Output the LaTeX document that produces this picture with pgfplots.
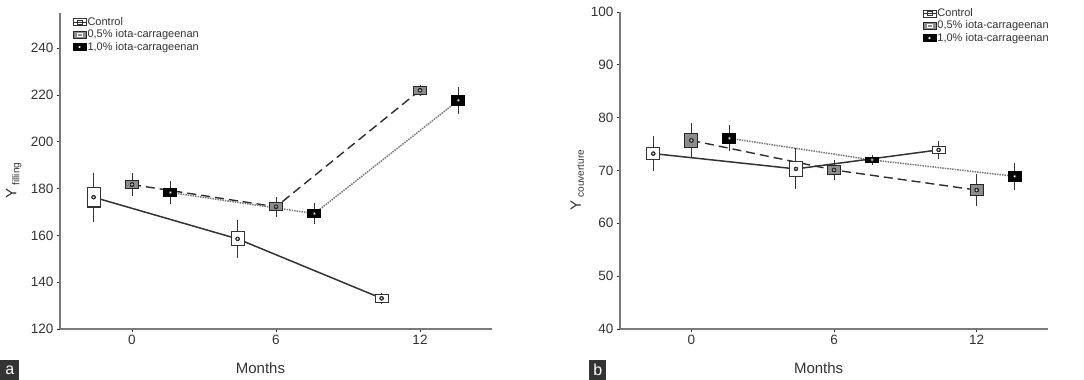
\documentclass[border=0pt]{standalone}
\usepackage{pgfplots}
\pgfplotsset{compat=1.18}
\usepackage{fontspec}
\setmainfont{Liberation Sans}
\definecolor{axgray}{HTML}{7A7A7A}
\definecolor{txt}{HTML}{333333}
\definecolor{ctrlc}{HTML}{333333}
\definecolor{halfc}{HTML}{2E2E2E}
\definecolor{onec}{HTML}{7A7A7A}
\definecolor{boxgray}{HTML}{8C8C8C}

% #1 style, #2 x position, #3 mean, #4 whisker half-length, #5 box half-height
\newcommand{\mybox}[5]{%
  \pgfmathsetmacro\xa{#2-0.27}\pgfmathsetmacro\xb{#2+0.27}%
  \pgfmathsetmacro\ya{#3-#5}\pgfmathsetmacro\yb{#3+#5}%
  \addplot[only marks, mark=none, forget plot,
    error bars/.cd, y dir=both, y explicit, error mark=-,
    error bar style={draw=black!80, line width=1pt},
    error mark options={draw=black!80, mark size=3pt, line width=1pt}]
    coordinates {(#2,#3) +- (0,#4)};
  \addplot[#1, forget plot] coordinates {(\xa,\ya) (\xb,\ya) (\xb,\yb) (\xa,\yb)} --cycle;
}

\pgfplotsset{
  panel/.style={
    scale only axis,
    axis lines*=left,
    axis line style={axgray, line width=1.4pt},
    xmin=-3, xmax=15,
    xtick={0,6,12},
    tick align=outside,
    major tick length=3pt,
    tick style={txt, line width=0.8pt},
    /pgf/number format/assume math mode=true,
    tick label style={font=\fontsize{13.5}{15}\selectfont, text=txt},
    label style={font=\fontsize{15}{17}\selectfont, text=txt},
    xlabel style={at={(axis description cs:0.464,0)}, anchor=center, yshift=-39pt},
    clip=false,
    legend cell align=left,
    legend style={draw=none, fill=none, inner sep=0pt, font=\fontsize{11}{12}\selectfont, text=txt, row sep=0.5pt, nodes={inner sep=1.2pt}},
  },
  ctrlbox/.style={draw=ctrlc, fill=white, line width=1.1pt},
  halfbox/.style={draw=black!85, fill=boxgray, line width=1.1pt},
  onebox/.style={draw=black, fill=black, line width=1.1pt},
  meanmark/.style={only marks, mark=*, mark size=1.4pt, mark options={fill=white, draw=black!70, line width=0.5pt}, forget plot},
  lgctrl/.style={legend image code/.code={\draw[ctrlc, fill=white, line width=0.6pt] (0pt,-3.5pt) rectangle (13pt,3.5pt); \draw[ctrlc, line width=0.5pt] (0pt,0pt) -- (13pt,0pt); \draw[ctrlc,line width=0.4pt] (4pt,-2pt) rectangle (9pt,2pt);}},
  lghalf/.style={legend image code/.code={\draw[black!85, fill=boxgray, line width=0.6pt] (0pt,-3.5pt) rectangle (13pt,3.5pt); \draw[white, line width=0.5pt] (4pt,-1.5pt) rectangle (9pt,1.5pt);}},
  lgone/.style={legend image code/.code={\draw[black, fill=black, line width=0.6pt] (0pt,-3.5pt) rectangle (13pt,3.5pt); \fill[white] (6.5pt,0pt) circle (0.9pt);}},
}

\begin{document}
\begin{tikzpicture}
\useasboundingbox (0,0) rectangle (1084pt,380pt);

% ---------------- Panel a ----------------
\begin{axis}[panel,
  at={(60pt,51pt)}, anchor=south west,
  width=432pt, height=316pt,
  ymin=120, ymax=255,
  ytick={120,140,...,240},
  xlabel={Months},
  ylabel={Y\raisebox{-3pt}{\fontsize{10}{10}\selectfont\ filling}},
  ylabel style={at={(axis description cs:-0.107,0.47)}, anchor=center, rotate=0},
  legend style={at={(axis description cs:0.029,0.99)}, anchor=north west},
]
\addlegendimage{lgctrl}\addlegendentry{Control}
\addlegendimage{lghalf}\addlegendentry{0,5\% iota-carrageenan}
\addlegendimage{lgone}\addlegendentry{1,0\% iota-carrageenan}

% lines
\addplot[ctrlc, line width=1.5pt, forget plot] coordinates {(-1.6,176.3) (4.4,158.5) (10.4,133.1)};
\addplot[halfc, line width=1.4pt, dash pattern=on 9pt off 5pt, forget plot] coordinates {(0,181.7) (6,172.2) (12,222.0)};
\addplot[onec, line width=1.5pt, densely dotted, forget plot] coordinates {(1.6,178.3) (7.6,169.3) (13.6,217.7)};

% boxes: style, x, mean, whisker half, box half
\mybox{ctrlbox}{-1.6}{176.3}{9.2}{4.2}
\mybox{ctrlbox}{4.4}{158.5}{6.7}{3.0}
\mybox{ctrlbox}{10.4}{133.1}{1.0}{1.6}
\mybox{halfbox}{0}{181.7}{3.8}{1.7}
\mybox{halfbox}{6}{172.2}{3.1}{1.7}
\mybox{halfbox}{12}{222.0}{1.0}{1.7}
\mybox{onebox}{1.6}{178.3}{3.7}{1.8}
\mybox{onebox}{7.6}{169.3}{3.2}{1.6}
\mybox{onebox}{13.6}{217.7}{4.5}{2.0}

% means
\addplot[meanmark] coordinates {(-1.6,176.3) (4.4,158.5) (10.4,133.1) (0,181.7) (6,172.2) (12,222.0) (1.6,178.3) (7.6,169.3) (13.6,217.7)};
\end{axis}

% ---------------- Panel b ----------------
\begin{axis}[panel,
  at={(620pt,51pt)}, anchor=south west,
  width=428pt, height=317pt,
  ymin=40, ymax=100,
  ytick={40,50,...,100},
  xlabel={Months},
  ylabel={Y\raisebox{-3pt}{\fontsize{10}{10}\selectfont\ couverture}},
  ylabel style={at={(axis description cs:-0.1,0.47)}, anchor=center, rotate=0},
  legend style={at={(axis description cs:1.005,1.015)}, anchor=north east},
]
\addlegendimage{lgctrl}\addlegendentry{Control}
\addlegendimage{lghalf}\addlegendentry{0,5\% iota-carrageenan}
\addlegendimage{lgone}\addlegendentry{1,0\% iota-carrageenan}

% lines
\addplot[ctrlc, line width=1.5pt, forget plot] coordinates {(-1.6,73.2) (4.4,70.3) (10.4,73.9)};
\addplot[halfc, line width=1.4pt, dash pattern=on 9pt off 5pt, forget plot] coordinates {(0,75.7) (6,70.1) (12,66.3)};
\addplot[onec, line width=1.5pt, densely dotted, forget plot] coordinates {(1.6,76.1) (7.6,72.0) (13.6,68.9)};

% boxes
\mybox{ctrlbox}{-1.6}{73.2}{2.7}{1.15}
\mybox{ctrlbox}{4.4}{70.3}{3.3}{1.4}
\mybox{ctrlbox}{10.4}{73.9}{1.1}{0.6}
\mybox{halfbox}{0}{75.7}{2.7}{1.3}
\mybox{halfbox}{6}{70.1}{1.3}{0.8}
\mybox{halfbox}{12}{66.3}{2.4}{1.0}
\mybox{onebox}{1.6}{76.1}{1.9}{0.9}
\mybox{onebox}{7.6}{72.0}{0.4}{0.4}
\mybox{onebox}{13.6}{68.9}{2.0}{0.9}

% means
\addplot[meanmark] coordinates {(-1.6,73.2) (4.4,70.3) (10.4,73.9) (0,75.7) (6,70.1) (12,66.3) (1.6,76.1) (7.6,72.0) (13.6,68.9)};
\end{axis}

% panel letters
\node[fill=black!80, text=white, minimum width=19pt, minimum height=20pt, inner sep=0pt, anchor=south west, font=\fontsize{16}{16}\selectfont] at (0pt,0pt) {a};
\node[fill=black!80, text=white, minimum width=17pt, minimum height=20pt, inner sep=0pt, anchor=south west, font=\fontsize{16}{16}\selectfont] at (589pt,0pt) {b};
\end{tikzpicture}
\end{document}
